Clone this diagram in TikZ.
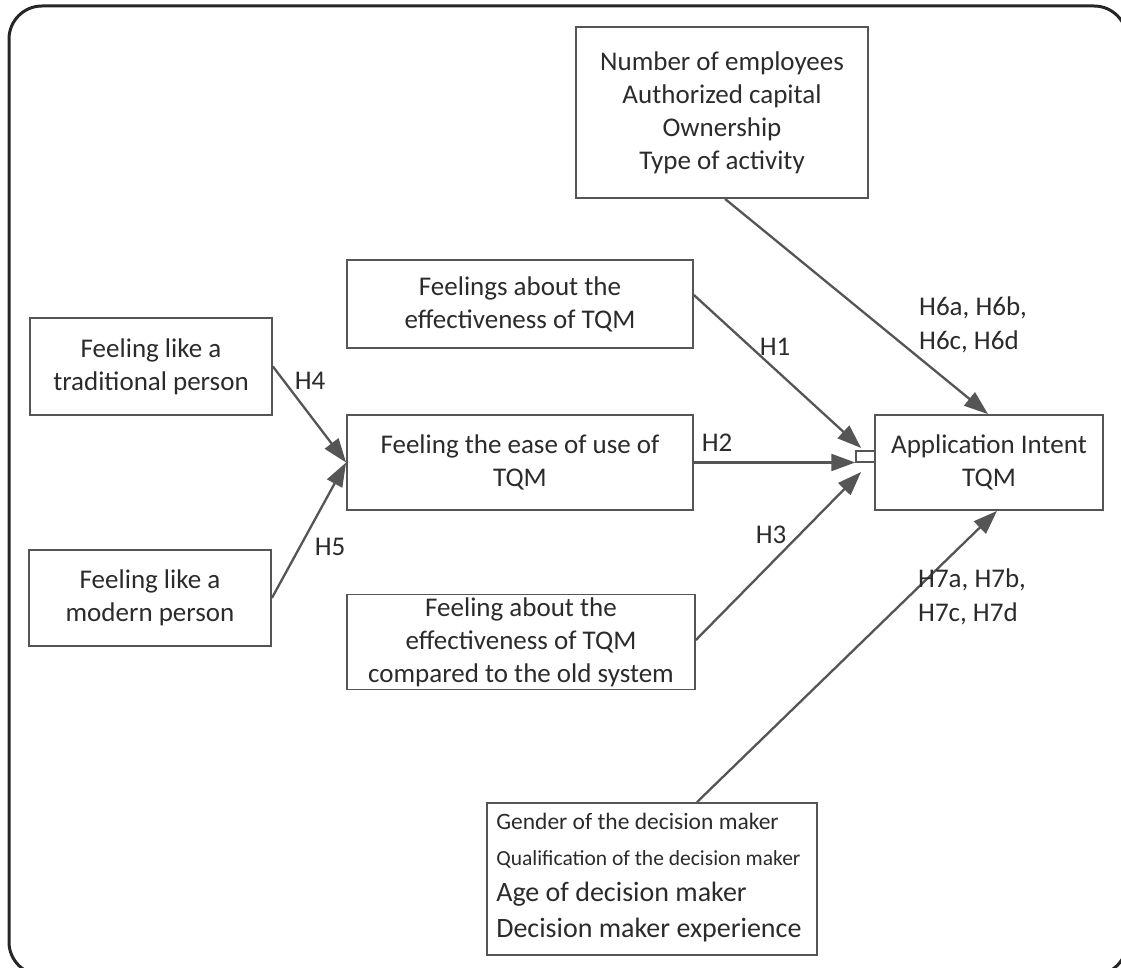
\documentclass[tikz,border=0pt]{standalone}
\usepackage{fontspec}
\setmainfont{Carlito}
\usetikzlibrary{arrows.meta}
\definecolor{linegray}{HTML}{555555}
\definecolor{txt}{HTML}{2B2B2B}
\begin{document}
\begin{tikzpicture}[x=1pt,y=-1pt,
  box/.style={draw=linegray, line width=1.8pt, rectangle, inner sep=0pt, text=txt, align=center, font=\fontsize{27}{33}\selectfont},
  conn/.style={draw=linegray, line width=2.3pt, -{Triangle[length=24pt,width=17pt]}},
  lbl/.style={text=txt, font=\fontsize{27}{34}\selectfont, inner sep=0pt}]
\useasboundingbox (0,0) rectangle (1121,968);
\draw[line width=3pt, draw=black!85, rounded corners=33pt] (9,6) rectangle (1127,975);

\node[box, minimum width=292pt, minimum height=171pt] (top) at (722,112.5)
  {Number of employees\\Authorized capital\\Ownership\\Type of activity};
\node[box, minimum width=346pt, minimum height=88pt] (feel) at (520,304)
  {Feelings about the\\effectiveness of TQM};
\node[box, minimum width=242pt, minimum height=97pt] (trad) at (151,366.5)
  {Feeling like a\\traditional person};
\node[box, minimum width=346pt, minimum height=95pt] (ease) at (520,462.5)
  {Feeling the ease of use of\\TQM};
\node[box, minimum width=242pt, minimum height=96pt] (modern) at (150,598)
  {Feeling like a\\modern person};
\node[box, minimum width=348pt, minimum height=95pt] (old) at (521,642)
  {Feeling about the\\effectiveness of TQM\\compared to the old system};
\node[box, minimum width=228pt, minimum height=95pt] (app) at (989,462.5)
  {Application Intent\\TQM};
\node[box, line width=1.5pt, minimum width=19pt, minimum height=11pt] (port) at (865.5,456.5) {};
\node[box, minimum width=330pt, minimum height=152pt] (bot) at (652,879) {};
\node[text=txt, inner sep=0pt, align=left, anchor=west, font=\fontsize{28}{36}\selectfont] (bottext)
  at ([xshift=10pt,yshift=1pt]bot.west)
  {{\fontsize{23.5}{36}\selectfont Gender of the decision maker}\\
   {\fontsize{21.5}{36}\selectfont Qualification of the decision maker}\\
   Age of decision maker\\
   Decision maker experience};

\draw[conn] (trad.east) -- (ease.west);
\draw[conn] (modern.east) -- (ease.west);
\draw[conn] ([yshift=9pt]feel.east) -- ([xshift=-13pt,yshift=14.5pt]app.west);
\draw[conn] (ease.east) -- (ease.east -| port.west);
\draw[conn] ([yshift=2pt]old.east) -- ([xshift=-13pt,yshift=-9.5pt]app.west);
\draw[conn] ([xshift=3pt]top.south) -- ([xshift=-1pt]app.north);
\draw[conn] ([xshift=45pt]bot.north) -- ([xshift=8pt]app.south);

\node[lbl] (h1) at (775,347) {H1};
\node[lbl] (h2) at (717,443) {H2};
\node[lbl] (h3) at (771,535) {H3};
\node[lbl] (h4) at (310,381) {H4};
\node[lbl] (h5) at (330,547) {H5};
\node[lbl, align=left, anchor=west] (h6) at (919,325) {H6a, H6b,\\H6c, H6d};
\node[lbl, align=left, anchor=west] (h7) at (918,597) {H7a, H7b,\\H7c, H7d};
\end{tikzpicture}
\end{document}
